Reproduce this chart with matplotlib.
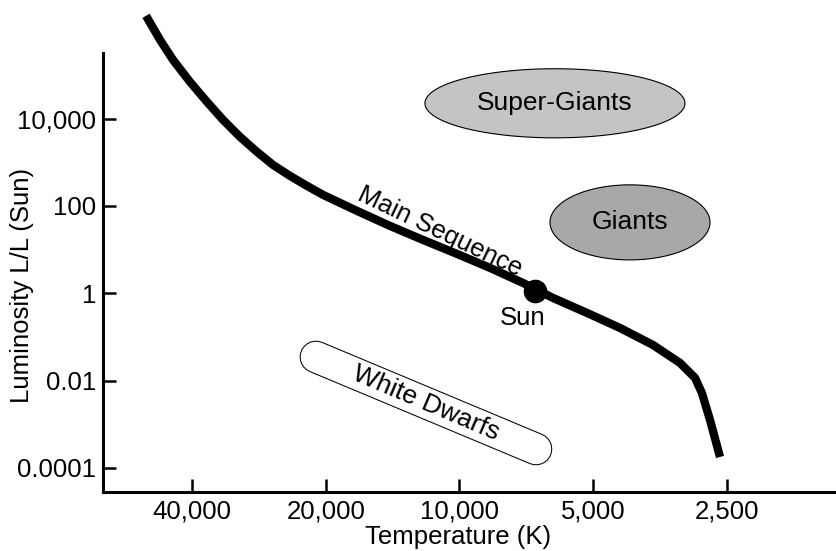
import numpy as np
import matplotlib
matplotlib.use("Agg")
import matplotlib.pyplot as plt
from matplotlib.ticker import FixedLocator, NullLocator

plt.rcParams["font.family"] = ["Liberation Sans", "DejaVu Sans"]

# main sequence track (temperature K, luminosity in solar units)
ms_temp = [50760, 47210, 44140, 40420, 37010, 34060, 31190, 28560, 26290,
           24070, 22040, 20290, 17010, 14340, 12080, 10130, 8536, 7196,
           6160, 5165, 4352, 3669, 3189, 2950, 2847, 2730, 2592]
ms_lum = [2.25e6, 6.35e5, 2.21e5, 6.93e4, 2.41e4, 9340, 3810, 1726, 869,
          486, 287, 179, 76.8, 34.8, 16.6, 7.95, 3.80, 1.72, 0.78, 0.354,
          0.160, 0.0654, 0.0253, 0.0115, 0.0052, 0.00125, 0.000178]

sun_temp, sun_lum = 6760, 1.1

# regions: (T hot, T cool), (L high, L low)
supergiant_temp = (11960, 3108)
supergiant_lum = (1.38e5, 3610)
giant_temp = (6256, 2730)
giant_lum = (303, 5.79)
# white dwarf strip: hot end -> cool end
dwarf_temp = (21040, 6727)
dwarf_lum = (0.0347, 2.71e-4)

x_ticks = [40000, 20000, 10000, 5000, 2500]
x_labels = ["40,000", "20,000", "10,000", "5,000", "2,500"]
y_ticks = [1e4, 1e2, 1, 1e-2, 1e-4]
y_labels = ["10,000", "100", "1", "0.01", "0.0001"]


def log_ellipse(ax, temps, lums, color):
    lt = np.log10(temps)
    ll = np.log10(lums)
    t = np.linspace(0, 2 * np.pi, 200)
    xs = 10 ** (lt.mean() + (lt[0] - lt[1]) / 2 * np.cos(t))
    ys = 10 ** (ll.mean() + (ll[0] - ll[1]) / 2 * np.sin(t))
    ax.fill(xs, ys, facecolor=color, edgecolor="black", lw=0.8, zorder=2)
    return 10 ** lt.mean(), 10 ** ll.mean()


def main():
    fig = plt.figure(figsize=(8.36, 5.51), dpi=100)
    ax = fig.add_axes([0.1232, 0.1076, 0.8768, 0.7962])
    ax.set_xscale("log")
    ax.set_yscale("log")
    ax.set_xlim(63430, 1421)
    ax.set_ylim(10 ** -4.545, 10 ** 5.5)

    for side in ["top", "right"]:
        ax.spines[side].set_visible(False)
    for side in ["left", "bottom"]:
        ax.spines[side].set_linewidth(2.2)

    ax.xaxis.set_major_locator(FixedLocator(x_ticks))
    ax.xaxis.set_minor_locator(NullLocator())
    ax.set_xticklabels(x_labels)
    ax.yaxis.set_major_locator(FixedLocator(y_ticks))
    ax.yaxis.set_minor_locator(NullLocator())
    ax.set_yticklabels(y_labels)
    ax.tick_params(direction="in", length=9.5, width=1.8, labelsize=18.5)
    ax.tick_params(axis="x", pad=5.5)
    ax.tick_params(axis="y", pad=5)

    ax.set_xlabel("Temperature (K)", fontsize=18.5)
    ax.xaxis.label.set_va("center")
    ax.xaxis.set_label_coords(0.484, -0.103)
    ax.set_ylabel("Luminosity L/L (Sun)", fontsize=18.5)
    ax.yaxis.label.set_va("center")
    ax.yaxis.set_label_coords(-0.11, 0.47)

    # main sequence
    ax.plot(ms_temp, ms_lum, color="black", lw=6, solid_capstyle="butt",
            solid_joinstyle="round", clip_on=False, zorder=3)
    ax.plot([sun_temp], [sun_lum], "o", color="black", ms=16, zorder=4)
    ax.annotate("Sun", (sun_temp, sun_lum), xytext=(-9, -19),
                textcoords="offset points", ha="center", va="center",
                fontsize=18.5)
    ax.text(11060, 26, "Main Sequence", rotation=-25.5, ha="center",
            va="center", fontsize=18.5, rotation_mode="anchor")

    # giants and super-giants
    cx, cy = log_ellipse(ax, supergiant_temp, supergiant_lum, "#c4c4c4")
    ax.text(cx, cy, "Super-Giants", ha="center", va="center", fontsize=19)
    cx, cy = log_ellipse(ax, giant_temp, giant_lum, "#a8a8a8")
    ax.text(cx, cy, "Giants", ha="center", va="center", fontsize=19)

    # white dwarfs: rounded strip
    ax.plot(dwarf_temp, dwarf_lum, color="black", lw=23.5,
            solid_capstyle="round", zorder=2)
    ax.plot(dwarf_temp, dwarf_lum, color="white", lw=22, solid_capstyle="round",
            zorder=2)
    wx = 10 ** np.mean(np.log10(dwarf_temp))
    wy = 10 ** np.mean(np.log10(dwarf_lum))
    ax.text(wx, wy, "White Dwarfs", rotation=-23, ha="center", va="center",
            fontsize=19, rotation_mode="anchor", zorder=3)

    fig.savefig("out.png", dpi=100)


if __name__ == "__main__":
    main()
